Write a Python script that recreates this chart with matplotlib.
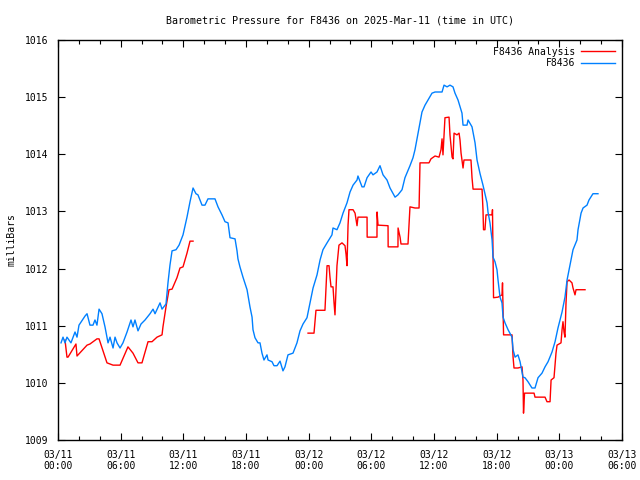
import numpy as np
import matplotlib
matplotlib.use("Agg")
import matplotlib.pyplot as plt
from matplotlib.ticker import MultipleLocator

# Hours since 2025-03-11 00:00 UTC, pressure in millibars
blue_hours = [
    0.29, 0.48, 0.67, 0.86, 1.24, 1.63, 1.82, 2.01, 2.59, 2.78, 3.06, 3.35, 3.54, 3.73, 3.93,
    4.21, 4.50, 4.69, 4.79, 4.98, 5.27, 5.46, 5.65, 5.94, 6.22, 6.61, 6.99, 7.18, 7.37, 7.66,
    7.95, 8.33, 8.81, 9.10, 9.29, 9.77, 9.96, 10.34, 10.53, 10.72, 10.92, 11.30, 11.59, 11.97,
    12.35, 12.64, 12.93, 13.21, 13.40, 13.79, 14.07, 14.36, 15.03, 15.32, 15.70, 15.99, 16.28,
    16.47, 16.95, 17.14, 17.23, 17.42, 17.71, 18.10, 18.38, 18.58, 18.67, 18.86, 19.15, 19.34,
    19.53, 19.72, 20.01, 20.11, 20.49, 20.68, 20.97, 21.26, 21.54, 21.73, 22.02, 22.50, 22.88,
    23.17, 23.46, 23.84, 24.13, 24.42, 24.80, 25.09, 25.37, 25.76, 26.23, 26.33, 26.71, 27.00,
    27.29, 27.67, 27.96, 28.25, 28.63, 28.72, 29.11, 29.30, 29.59, 29.97, 30.16, 30.54, 30.83,
    31.12, 31.50, 31.79, 32.27, 32.55, 32.94, 33.22, 33.70, 33.99, 34.18, 34.47, 34.85, 35.14,
    35.43, 35.81, 36.10, 36.77, 36.96, 37.25, 37.53, 37.82, 38.01, 38.30, 38.68, 38.78, 39.16,
    39.26, 39.64, 39.93, 40.12, 40.41, 40.69, 41.08, 41.17, 41.36, 41.56, 41.65, 41.84, 42.03,
    42.13, 42.32, 42.51, 42.61, 42.80, 43.09, 43.47, 43.57, 43.76, 44.04, 44.24, 44.52, 44.71,
    45.00, 45.38, 45.67, 45.96, 46.34, 46.63, 46.92, 47.30, 47.59, 47.87, 48.26, 48.54, 48.74,
    49.02, 49.31, 49.69, 49.79, 50.08, 50.27, 50.65, 50.84, 51.22, 51.70,
]
blue_mbar = [
    1010.70, 1010.80, 1010.70, 1010.80, 1010.70, 1010.89, 1010.80, 1011.01, 1011.17, 1011.21,
    1011.01, 1011.01, 1011.10, 1011.01, 1011.29, 1011.21, 1010.98, 1010.80, 1010.70, 1010.80,
    1010.61, 1010.80, 1010.70, 1010.61, 1010.70, 1010.89, 1011.10, 1010.98, 1011.10, 1010.91,
    1011.03, 1011.10, 1011.21, 1011.29, 1011.21, 1011.40, 1011.29, 1011.38, 1011.75, 1012.06,
    1012.31, 1012.33, 1012.41, 1012.59, 1012.90, 1013.17, 1013.41, 1013.31, 1013.29, 1013.11,
    1013.11, 1013.22, 1013.22, 1013.08, 1012.94, 1012.82, 1012.80, 1012.54, 1012.52, 1012.31,
    1012.17, 1012.03, 1011.85, 1011.63, 1011.33, 1011.15, 1010.93, 1010.79, 1010.70, 1010.70,
    1010.52, 1010.40, 1010.49, 1010.40, 1010.37, 1010.30, 1010.30, 1010.38, 1010.21, 1010.28,
    1010.49, 1010.52, 1010.70, 1010.91, 1011.03, 1011.14, 1011.40, 1011.66, 1011.89, 1012.15,
    1012.33, 1012.45, 1012.59, 1012.71, 1012.68, 1012.80, 1012.97, 1013.15, 1013.34, 1013.46,
    1013.55, 1013.62, 1013.43, 1013.43, 1013.59, 1013.69, 1013.64, 1013.69, 1013.80, 1013.64,
    1013.55, 1013.41, 1013.25, 1013.29, 1013.38, 1013.59, 1013.80, 1013.94, 1014.08, 1014.37,
    1014.74, 1014.86, 1014.95, 1015.07, 1015.09, 1015.09, 1015.21, 1015.18, 1015.21, 1015.18,
    1015.07, 1014.95, 1014.72, 1014.51, 1014.51, 1014.60, 1014.48, 1014.20, 1013.90, 1013.66,
    1013.46, 1013.15, 1012.99, 1012.80, 1012.50, 1012.20, 1012.12, 1011.98, 1011.80, 1011.50,
    1011.40, 1011.15, 1011.05, 1010.93, 1010.80, 1010.58, 1010.45, 1010.49, 1010.37, 1010.10,
    1010.09, 1010.02, 1009.91, 1009.91, 1010.09, 1010.17, 1010.28, 1010.37, 1010.54, 1010.72,
    1010.96, 1011.24, 1011.50, 1011.80, 1012.06, 1012.33, 1012.50, 1012.68, 1012.97, 1013.06,
    1013.11, 1013.20, 1013.31, 1013.31,
]

red_hours = [
    0.67, 0.86, 0.96, 1.72, 1.82, 2.78, 3.06, 3.73, 3.93, 4.69, 5.27, 5.94, 6.70, 7.18, 7.66,
    8.04, 8.62, 9.00, 9.48, 9.96, 10.05, 10.34, 10.63, 10.92, 11.39, 11.68, 11.97, 12.35, 12.64,
    12.93,
    np.nan,
    23.94, 24.51, 24.61, 24.70, 25.56, 25.66, 25.76, 25.95, 26.04, 26.14, 26.33, 26.43, 26.52,
    26.62, 26.71, 26.90, 27.19, 27.48, 27.58, 27.67, 27.77, 27.86, 28.25, 28.44, 28.63, 28.72,
    29.59, 29.60, 30.54, 30.55, 30.64, 31.60, 31.61, 32.55, 32.56, 32.75, 32.84, 33.51, 33.61,
    33.70, 34.18, 34.57, 34.66, 35.52, 35.71, 36.10, 36.48, 36.67, 36.77, 36.86, 37.05, 37.44,
    37.53, 37.73, 37.82, 37.92, 38.20, 38.40, 38.49, 38.59, 38.68, 38.78, 38.87, 39.54, 39.64,
    39.74, 40.60, 40.69, 40.74, 40.88, 40.98, 41.56, 41.60, 41.65, 41.70, 42.13, 42.51, 42.56,
    42.61, 42.66, 43.47, 43.57, 43.66, 44.04, 44.43, 44.52, 44.57, 44.67, 44.81, 45.58, 45.67,
    46.63, 46.82, 47.11, 47.21, 47.49, 47.59, 47.68, 47.78, 48.16, 48.26, 48.35, 48.45, 48.54,
    48.64, 48.74, 48.93, 49.21, 49.31, 49.50, 49.60, 50.46,
]
red_mbar = [
    1010.75, 1010.45, 1010.45, 1010.68, 1010.47, 1010.66, 1010.68, 1010.77, 1010.77, 1010.35,
    1010.31, 1010.31, 1010.63, 1010.52, 1010.35, 1010.35, 1010.72, 1010.72, 1010.80, 1010.84,
    1010.98, 1011.33, 1011.63, 1011.64, 1011.84, 1012.01, 1012.03, 1012.27, 1012.48, 1012.48,
    np.nan,
    1010.87, 1010.87, 1011.07, 1011.27, 1011.27, 1011.66, 1012.05, 1012.05, 1011.85, 1011.68,
    1011.68, 1011.40, 1011.19, 1011.66, 1012.05, 1012.41, 1012.45, 1012.40, 1012.25, 1012.05,
    1012.76, 1013.03, 1013.03, 1012.97, 1012.75, 1012.90, 1012.90, 1012.55, 1012.55, 1012.99,
    1012.76, 1012.75, 1012.38, 1012.38, 1012.71, 1012.55, 1012.43, 1012.43, 1012.78, 1013.08,
    1013.06, 1013.06, 1013.85, 1013.85, 1013.92, 1013.97, 1013.95, 1014.08, 1014.27, 1013.99,
    1014.64, 1014.65, 1014.34, 1013.95, 1013.92, 1014.37, 1014.34, 1014.37, 1014.25, 1014.02,
    1013.90, 1013.76, 1013.90, 1013.90, 1013.59, 1013.39, 1013.39, 1013.03, 1012.68, 1012.68,
    1012.94, 1012.94, 1013.03, 1012.19, 1011.49, 1011.50, 1011.54, 1011.75, 1011.33, 1010.84,
    1010.84, 1010.45, 1010.26, 1010.26, 1010.28, 1010.05, 1009.47, 1009.82, 1009.82, 1009.82,
    1009.75, 1009.75, 1009.67, 1009.67, 1010.05, 1010.09, 1010.31, 1010.52, 1010.66, 1010.70,
    1010.93, 1011.07, 1010.89, 1010.80, 1011.40, 1011.77, 1011.80, 1011.75, 1011.66, 1011.54,
    1011.63, 1011.63,
]

tick_hours = [0, 6, 12, 18, 24, 30, 36, 42, 48, 54]
tick_labels = ["03/11\n00:00", "03/11\n06:00", "03/11\n12:00", "03/11\n18:00",
               "03/12\n00:00", "03/12\n06:00", "03/12\n12:00", "03/12\n18:00",
               "03/13\n00:00", "03/13\n06:00"]

plt.rcParams["font.family"] = "DejaVu Sans Mono"
plt.rcParams["font.size"] = 7

fig = plt.figure(figsize=(6.4, 4.8), dpi=100)
ax = fig.add_axes([58 / 640, 40 / 480, 564 / 640, 400 / 480])

ax.plot(red_hours, red_mbar, color="#ff0000", linewidth=1.0, label="F8436 Analysis")
ax.plot(blue_hours, blue_mbar, color="#0080ff", linewidth=1.0, label="F8436")

ax.set_xlim(0, 54)
ax.set_ylim(1009, 1016)
ax.set_xticks(tick_hours)
ax.set_xticklabels(tick_labels)
ax.xaxis.set_minor_locator(MultipleLocator(2))
ax.yaxis.set_major_locator(MultipleLocator(1))
ax.tick_params(which="both", direction="in", top=True, right=True, width=0.8)
ax.tick_params(which="major", length=5, pad=7)
ax.tick_params(which="minor", length=3)
for s in ax.spines.values():
    s.set_linewidth(1.0)

ax.set_title("Barometric Pressure for F8436 on 2025-Mar-11 (time in UTC)", fontsize=7.2, pad=12)
ax.set_ylabel("milliBars", labelpad=6)

ax.legend(loc="upper right", frameon=False, markerfirst=False, handlelength=3.5,
          handletextpad=0.6, labelspacing=0.15, borderaxespad=0.3)

plt.savefig("out.png", dpi=100)
plt.close(fig)
